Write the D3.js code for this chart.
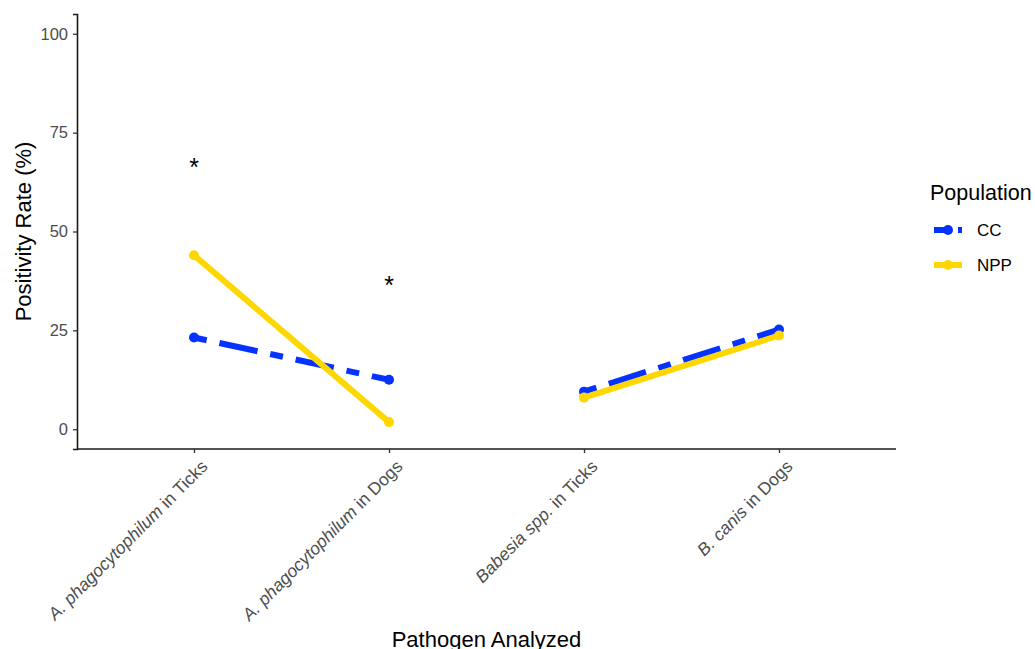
<!DOCTYPE html>
<html>
<head>
<meta charset="utf-8">
<script src="https://cdn.jsdelivr.net/npm/d3@7"></script>
<style>
  body { margin: 0; background: #fff; }
  text { font-family: "Liberation Sans", Arial, sans-serif; }
</style>
</head>
<body>
<div id="chart"></div>
<script>
// categories on the x axis: italic part + plain part
var categories = ["apTicks", "apDogs", "babTicks", "bcDogs"]
var catItalic = ["A. phagocytophilum", "A. phagocytophilum", "Babesia spp.", "B. canis"]
var catPlain = [" in Ticks", " in Dogs", " in Ticks", " in Dogs"]

var populations = ["CC", "NPP"]
var ccValues = [23.2, 12.5, 9.5, 25.2]
var nppValues = [44.0, 1.8, 8.0, 23.7]
// line pairs drawn separately
var pairs = [[0, 1], [2, 3]]

var yTicks = [0, 25, 50, 75, 100]
var starCats = ["apTicks", "apDogs"]
var starValues = [68.8, 39.0]

var colors = { CC: "#0433ff", NPP: "#ffd700" }
var dashes = { CC: "13,13,39,13", NPP: null }

var W = 1035, H = 649
var margin = { left: 77, right: 139, top: 14, bottom: 200 }

var svg = d3.select("#chart").append("svg")
    .attr("width", W)
    .attr("height", H)

var x = d3.scalePoint()
    .domain(categories)
    .range([margin.left, W - margin.right])
    .padding(0.6)

var y = d3.scaleLinear()
    .domain([-5, 105])
    .range([H - margin.bottom, margin.top])

// y axis
var yAxis = svg.append("g")
    .attr("transform", "translate(" + margin.left + ",0)")
    .call(d3.axisLeft(y).tickValues(yTicks).tickSize(4).tickPadding(5))
yAxis.select(".domain").attr("stroke", "#1a1a1a").attr("stroke-width", 1.6)
yAxis.selectAll(".tick line").attr("stroke", "#333").attr("stroke-width", 1.3)
yAxis.selectAll(".tick text")
    .attr("fill", "#4d4d4d")
    .style("font-size", "16.5px")
    .style("font-family", "'Liberation Sans', Arial, sans-serif")

// x axis
var xAxis = svg.append("g")
    .attr("transform", "translate(0," + (H - margin.bottom) + ")")
    .call(d3.axisBottom(x).tickSize(4).tickFormat(""))
xAxis.select(".domain").attr("stroke", "#1a1a1a").attr("stroke-width", 1.6)
    .attr("d", "M" + margin.left + ",0H" + (W - margin.right))
xAxis.selectAll(".tick line").attr("stroke", "#333").attr("stroke-width", 1.3)

var labels = svg.append("g")
categories.forEach(function (c, i) {
    var t = labels.append("text")
        .attr("transform", "translate(" + (x(c) + 6) + "," + (H - margin.bottom + 10) + ") rotate(-45)")
        .attr("text-anchor", "end")
        .attr("dy", "0.7em")
        .attr("fill", "#4d4d4d")
        .style("font-size", "17.5px")
    t.append("tspan").style("font-style", "italic").text(catItalic[i])
    t.append("tspan").text(catPlain[i])
})

// axis titles
svg.append("text")
    .attr("transform", "translate(31," + y(50) + ") rotate(-90)")
    .attr("text-anchor", "middle")
    .style("font-size", "22px")
    .text("Positivity Rate (%)")

svg.append("text")
    .attr("x", (margin.left + W - margin.right) / 2)
    .attr("y", 647)
    .attr("text-anchor", "middle")
    .style("font-size", "22px")
    .text("Pathogen Analyzed")

// series
var series = [
    { name: "CC", values: ccValues },
    { name: "NPP", values: nppValues }
]

var line = d3.line()
    .x(function (d) { return x(categories[d.i]) })
    .y(function (d) { return y(d.v) })

var plot = svg.append("g")
series.forEach(function (s) {
    pairs.forEach(function (p) {
        plot.append("path")
            .datum(p.map(function (i) { return { i: i, v: s.values[i] } }))
            .attr("d", line)
            .attr("fill", "none")
            .attr("stroke", colors[s.name])
            .attr("stroke-width", 6)
            .attr("stroke-dasharray", dashes[s.name])
    })
    plot.selectAll(null)
        .data(s.values)
        .enter()
        .append("circle")
        .attr("cx", function (d, i) { return x(categories[i]) })
        .attr("cy", function (d) { return y(d) })
        .attr("r", 5)
        .attr("fill", colors[s.name])
})

// significance stars
svg.selectAll(null)
    .data(starValues)
    .enter()
    .append("text")
    .attr("x", function (d, i) { return x(starCats[i]) })
    .attr("y", function (d) { return y(d) })
    .attr("dy", "0.75em")
    .attr("text-anchor", "middle")
    .style("font-size", "25px")
    .text("*")

// legend
var legend = svg.append("g").attr("transform", "translate(930,0)")
legend.append("text")
    .attr("x", 0)
    .attr("y", 200)
    .style("font-size", "21.5px")
    .text("Population")

populations.forEach(function (p, i) {
    var ly = 230 + i * 35
    legend.append("line")
        .attr("x1", 4).attr("x2", 32)
        .attr("y1", ly).attr("y2", ly)
        .attr("stroke", colors[p])
        .attr("stroke-width", 6)
        .attr("stroke-dasharray", p == "CC" ? "18,6,4,6" : null)
    legend.append("circle")
        .attr("cx", 18).attr("cy", ly)
        .attr("r", 5)
        .attr("fill", colors[p])
    legend.append("text")
        .attr("x", 47)
        .attr("y", ly)
        .attr("dy", "0.36em")
        .style("font-size", "17px")
        .text(p)
})
</script>
</body>
</html>
